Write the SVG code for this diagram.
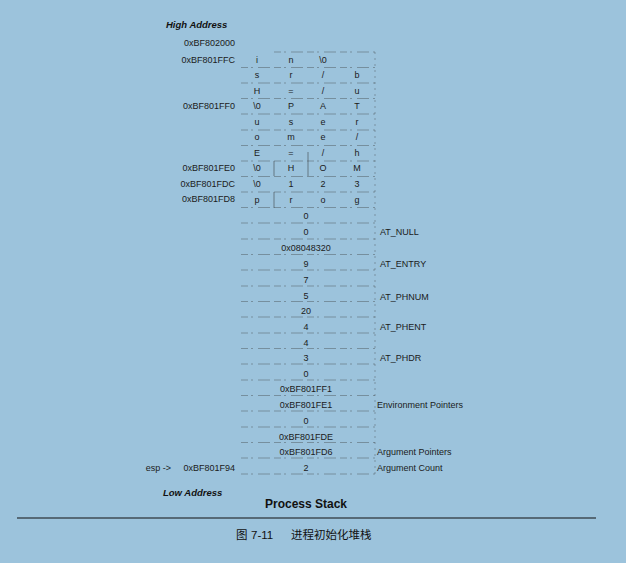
<svg xmlns="http://www.w3.org/2000/svg" width="626" height="563" viewBox="0 0 626 563">
<style>
.t{font-family:"Liberation Sans",Arial,sans-serif;font-size:9px;fill:#1b1b1b}
.c{text-anchor:middle}
.r{text-anchor:end}
.hd{font-family:"Liberation Sans",Arial,sans-serif;font-size:9.5px;font-weight:bold;font-style:italic;fill:#111}
.ln{stroke:#3a3a3a;stroke-width:0.7;stroke-dasharray:7 3 2 5 12 4;opacity:0.55;fill:none}
.vl{stroke:#3a3a3a;stroke-width:0.7;stroke-dasharray:2 4;opacity:0.5}
.vs{stroke:#333;stroke-width:0.8;opacity:0.65}
.cj{font-family:"Liberation Sans","Noto Sans CJK SC",sans-serif;font-size:11.5px;fill:#111}
</style>
<rect width="626" height="563" fill="#9cc3dc"/>
<text class="hd" x="166" y="28">High Address</text>
<text class="hd" x="163" y="496">Low Address</text>
<g id="connectors">
<path class="ln" d="M274 52H375M241 67.5H375M241 83H375M241 98.5H375M241 114H375M241 130H375M241 145.5H375M241 161H375M241 176.5H375M241 192H375M241 207.5H375M241 223H375M241 239H375M241 254.5H375M241 270H375M241 286H375M241 301.5H375M241 317H375M241 333H375M241 348.5H375M241 364H375M241 380H375M241 395.5H375M241 411H375M241 427H375M241 442.5H375M241 458H375M241 474H375"/>
<path class="vl" d="M375 52V474"/>
<path class="vs" d="M274 161V176M308 152V176M274 192V208"/>
<path d="M17 518H596" stroke="#111" stroke-width="1.2"/>
</g>
<g id="left-addresses" class="t r">
<text x="235" y="46">0xBF802000</text>
<text x="235" y="63">0xBF801FFC</text>
<text x="235" y="109">0xBF801FF0</text>
<text x="235" y="171">0xBF801FE0</text>
<text x="235" y="187">0xBF801FDC</text>
<text x="235" y="202">0xBF801FD8</text>
<text x="235" y="471">0xBF801F94</text>
<text x="171" y="471">esp -&gt;</text>
</g>
<g id="strings" class="t c">
<g id="r1"><text x="257" y="63">i</text><text x="291" y="63">n</text><text x="323" y="63">\0</text></g>
<g id="r2"><text x="257" y="78">s</text><text x="291" y="78">r</text><text x="323" y="78">/</text><text x="357" y="78">b</text></g>
<g id="r3"><text x="257" y="94">H</text><text x="291" y="94">=</text><text x="323" y="94">/</text><text x="357" y="94">u</text></g>
<g id="r4"><text x="257" y="109">\0</text><text x="291" y="109">P</text><text x="323" y="109">A</text><text x="357" y="109">T</text></g>
<g id="r5"><text x="257" y="125">u</text><text x="291" y="125">s</text><text x="323" y="125">e</text><text x="357" y="125">r</text></g>
<g id="r6"><text x="257" y="140">o</text><text x="291" y="140">m</text><text x="323" y="140">e</text><text x="357" y="140">/</text></g>
<g id="r7"><text x="257" y="156">E</text><text x="291" y="156">=</text><text x="323" y="156">/</text><text x="357" y="156">h</text></g>
<g id="r8"><text x="257" y="171">\0</text><text x="291" y="171">H</text><text x="323" y="171">O</text><text x="357" y="171">M</text></g>
<g id="r9"><text x="257" y="187">\0</text><text x="291" y="187">1</text><text x="323" y="187">2</text><text x="357" y="187">3</text></g>
<g id="r10"><text x="257" y="203">p</text><text x="291" y="203">r</text><text x="323" y="203">o</text><text x="357" y="203">g</text></g>
</g>
<g id="stack" class="t c">
<g id="s1"><text x="306" y="219">0</text></g>
<g id="s2"><text x="306" y="235">0</text></g>
<g id="s3"><text x="306" y="251">0x08048320</text></g>
<g id="s4"><text x="306" y="267">9</text></g>
<g id="s5"><text x="306" y="283">7</text></g>
<g id="s6"><text x="306" y="299">5</text></g>
<g id="s7"><text x="306" y="314">20</text></g>
<g id="s8"><text x="306" y="330">4</text></g>
<g id="s9"><text x="306" y="346">4</text></g>
<g id="s10"><text x="306" y="361">3</text></g>
<g id="s11"><text x="306" y="377">0</text></g>
<g id="s12"><text x="306" y="392">0xBF801FF1</text></g>
<g id="s13"><text x="306" y="408">0xBF801FE1</text></g>
<g id="s14"><text x="306" y="424">0</text></g>
<g id="s15"><text x="306" y="440">0xBF801FDE</text></g>
<g id="s16"><text x="306" y="455">0xBF801FD6</text></g>
<g id="s17"><text x="306" y="471">2</text></g>
</g>
<g id="right-labels" class="t">
<text x="380" y="235">AT_NULL</text>
<text x="380" y="267">AT_ENTRY</text>
<text x="380" y="300">AT_PHNUM</text>
<text x="380" y="330">AT_PHENT</text>
<text x="380" y="361">AT_PHDR</text>
<text x="377" y="408">Environment Pointers</text>
<text x="377" y="455">Argument Pointers</text>
<text x="377" y="471">Argument Count</text>
</g>
<text x="306" y="508" text-anchor="middle" font-family="Liberation Sans,Arial,sans-serif" font-size="12px" font-weight="bold" fill="#111">Process Stack</text>
<g id="caption" class="cj">
<text x="236" y="539">图</text>
<text x="251" y="539">7-11</text>
<text x="291" y="539">进程初始化堆栈</text>
</g>
</svg>
